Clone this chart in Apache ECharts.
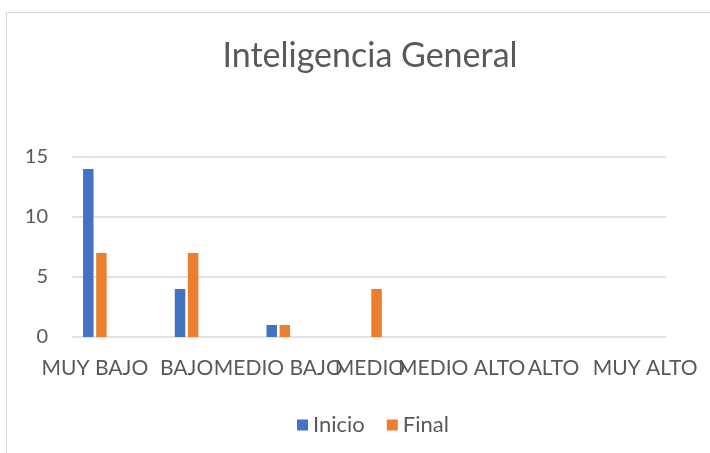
<!DOCTYPE html>
<html>
<head>
<meta charset="utf-8">
<script src="https://cdn.jsdelivr.net/npm/echarts@6/dist/echarts.min.js"></script>
<style>
  html, body { margin: 0; padding: 0; background: #ffffff; }
  #chart { width: 710px; height: 453px; }
</style>
</head>
<body>
<div id="chart"></div>
<script>
// Levels of the general-intelligence scale
const categories = ['MUY BAJO', 'BAJO', 'MEDIO BAJO', 'MEDIO', 'MEDIO ALTO', 'ALTO', 'MUY ALTO'];
// Counts per level, before and after
const inicio = [14, 4, 1, 0, 0, 0, 0];
const final = [7, 7, 1, 4, 0, 0, 0];
const seriesNames = ['Inicio', 'Final'];
const yTicks = { min: 0, max: 15, interval: 5 };

const FONT = 'Lato, "Open Sans", sans-serif';
const TEXT = '#595959';
const GRIDLINE = '#d9d9d9';

const chart = echarts.init(document.getElementById('chart'));
chart.setOption({
  animation: false,
  backgroundColor: '#ffffff',
  textStyle: { fontFamily: FONT },
  title: {
    text: 'Inteligencia General',
    left: 365,
    textAlign: 'center',
    top: 34,
    textStyle: { fontFamily: FONT, fontSize: 34, fontWeight: 'normal', color: TEXT }
  },
  legend: {
    data: seriesNames,
    left: 292,
    top: 409,
    itemWidth: 11,
    itemHeight: 11,
    itemGap: 22,
    icon: 'rect',
    textStyle: { fontFamily: FONT, fontSize: 22, color: TEXT }
  },
  graphic: [{
    type: 'rect',
    silent: true,
    shape: { x: 6.5, y: 12.5, width: 800, height: 800 },
    style: { fill: 'none', stroke: GRIDLINE, lineWidth: 1 }
  }],
  grid: [
    // value grid: gridlines and tick labels
    { left: 72, right: 44, top: 157, bottom: 116, containLabel: false },
    // category grid: bars and category labels
    { left: 49, right: 19, top: 157, bottom: 116, containLabel: false }
  ],
  xAxis: [
    { type: 'category', gridIndex: 0, data: categories, show: false },
    {
      type: 'category', gridIndex: 1, data: categories,
      axisLine: { show: false },
      axisTick: { show: false },
      axisLabel: {
        interval: 0, hideOverlap: false, margin: 21,
        fontFamily: FONT, fontSize: 21, color: TEXT
      }
    }
  ],
  yAxis: [
    {
      type: 'value', gridIndex: 0,
      min: yTicks.min, max: yTicks.max, interval: yTicks.interval,
      axisLine: { show: false },
      axisTick: { show: false },
      axisLabel: { margin: 24, fontFamily: FONT, fontSize: 20, color: TEXT },
      splitLine: { lineStyle: { color: GRIDLINE, width: 1.5 } }
    },
    {
      type: 'value', gridIndex: 1,
      min: yTicks.min, max: yTicks.max, interval: yTicks.interval,
      show: false
    }
  ],
  series: [
    {
      name: seriesNames[0], type: 'bar', data: inicio,
      xAxisIndex: 1, yAxisIndex: 1,
      barWidth: 10.5, barGap: '25%',
      itemStyle: { color: '#4472c4' }
    },
    {
      name: seriesNames[1], type: 'bar', data: final,
      xAxisIndex: 1, yAxisIndex: 1,
      barWidth: 10.5, barGap: '25%',
      itemStyle: { color: '#ed7d31' }
    }
  ]
});
</script>
</body>
</html>
